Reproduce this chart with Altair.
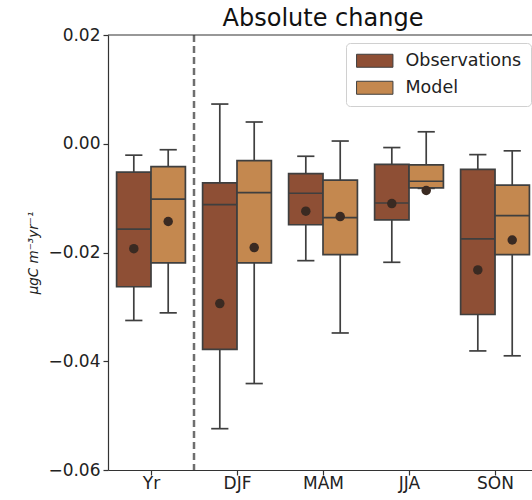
import altair as alt
import pandas as pd

# Box statistics per period (ugC m-3 yr-1)
seasons = ["Yr", "DJF", "MAM", "JJA", "SON"]
series_names = ["Observations", "Model"]

obs_whislo = [-0.0325, -0.0524, -0.0215, -0.0218, -0.0381]
obs_q1 = [-0.0263, -0.0378, -0.0149, -0.0140, -0.0314]
obs_med = [-0.0157, -0.0112, -0.0091, -0.0109, -0.0175]
obs_q3 = [-0.0052, -0.0072, -0.0055, -0.0038, -0.0047]
obs_whishi = [-0.0021, 0.0073, -0.0023, -0.0007, -0.0020]
obs_mean = [-0.0193, -0.0294, -0.0124, -0.0110, -0.0232]

mod_whislo = [-0.0311, -0.0441, -0.0348, -0.0082, -0.0390]
mod_q1 = [-0.0219, -0.0219, -0.0204, -0.0081, -0.0204]
mod_med = [-0.0102, -0.0090, -0.0136, -0.0069, -0.0132]
mod_q3 = [-0.0042, -0.0031, -0.0067, -0.0039, -0.0076]
mod_whishi = [-0.0011, 0.0040, 0.0005, 0.0022, -0.0013]
mod_mean = [-0.0143, -0.0191, -0.0134, -0.0086, -0.0177]

colors = ["#8E4F35", "#C4884F"]
edge = "#3f3f3f"
line_w = 1.7

rows = []
stats = {
    "Observations": (obs_whislo, obs_q1, obs_med, obs_q3, obs_whishi, obs_mean),
    "Model": (mod_whislo, mod_q1, mod_med, mod_q3, mod_whishi, mod_mean),
}
for name in series_names:
    lo, q1, med, q3, hi, mean = stats[name]
    for i, s in enumerate(seasons):
        rows.append(dict(season=s, series=name, idx=i, lo=lo[i], q1=q1[i],
                         med=med[i], q3=q3[i], hi=hi[i], mean=mean[i]))
df = pd.DataFrame(rows)

# Dodge the two series around each period's slot
base = alt.Chart(df).transform_calculate(
    pos="datum.idx + (datum.series === 'Observations' ? -0.2 : 0.2)"
).transform_calculate(
    left="datum.pos - 0.2", right="datum.pos + 0.2",
    capl="datum.pos - 0.1", capr="datum.pos + 0.1",
)

xscale = alt.Scale(domain=[-0.5, 4.43], nice=False, zero=False)
yscale = alt.Scale(domain=[-0.06, 0.02], nice=False, zero=False)
label_expr = "['Yr','DJF','MAM','JJA','SON'][datum.value]"

xaxis = alt.Axis(values=[0, 1, 2, 3, 4], labelExpr=label_expr, title=None,
                 grid=False, labelFontSize=17, labelPadding=0, tickSize=5)
yaxis = alt.Axis(values=[-0.06, -0.04, -0.02, 0.0, 0.02], format=".2f",
                 grid=False, labelFontSize=17, tickSize=5, labelPadding=3,
                 title="μgC m⁻³yr⁻¹", titleFontSize=13.5, titleFontStyle="italic",
                 titleFontWeight="normal", titlePadding=7)

whisker = base.mark_rule(color=edge, strokeWidth=line_w).encode(
    x=alt.X("pos:Q", scale=xscale, axis=xaxis),
    y=alt.Y("lo:Q", scale=yscale, axis=yaxis),
    y2="hi:Q",
)
cap_hi = base.mark_rule(color=edge, strokeWidth=line_w).encode(
    x="capl:Q", x2="capr:Q", y="hi:Q")
cap_lo = base.mark_rule(color=edge, strokeWidth=line_w).encode(
    x="capl:Q", x2="capr:Q", y="lo:Q")

box = base.mark_bar(stroke=edge, strokeWidth=line_w).encode(
    x="left:Q", x2="right:Q", y="q1:Q", y2="q3:Q",
    fill=alt.Fill("series:N", scale=alt.Scale(domain=series_names, range=colors),
                  legend=alt.Legend(
                      title=None, orient="none", legendX=238, legendY=8,
                      symbolType="M-2.8,-1L2.8,-1L2.8,1L-2.8,1Z",
                      symbolSize=169, symbolStrokeColor=edge, symbolStrokeWidth=1,
                      symbolOffset=11, labelOffset=22, labelFontSize=17.5,
                      labelColor="#222", rowPadding=8,
                      fillColor="white", strokeColor="#d0d0d0", cornerRadius=4,
                      padding=9)),
)
median = base.mark_rule(color=edge, strokeWidth=line_w).encode(
    x="left:Q", x2="right:Q", y="med:Q")
means = base.mark_circle(size=90, color="#3a2a22", opacity=1).encode(
    x="pos:Q", y="mean:Q")

divider = alt.Chart(pd.DataFrame({"split": [0.5]})).mark_rule(
    color="#6e6e6e", strokeWidth=2.5, strokeDash=[7, 4]
).encode(x="split:Q")

top_spine = alt.Chart(pd.DataFrame({"v": [0.02]})).mark_rule(
    color="#333", strokeWidth=1.2
).encode(y="v:Q", x=alt.value(0), x2=alt.value(424))

chart = alt.layer(
    divider, whisker, cap_hi, cap_lo, box, median, means, top_spine
).properties(
    width=424, height=435,
    title=alt.TitleParams("Absolute change", fontSize=24, fontWeight="normal",
                          anchor="middle", frame="group", dx=3, offset=-5,
                          color="#111"),
    autosize=alt.AutoSizeParams(type="none"),
    padding={"left": 108, "top": 35, "right": 0, "bottom": 30},
).configure_view(stroke=None).configure_axis(
    domainColor="#333", domainWidth=1.2, tickColor="#333", tickWidth=1.2,
    labelColor="#222", titleColor="#222", labelFont="DejaVu Sans",
    titleFont="DejaVu Sans",
).configure_legend(labelFont="DejaVu Sans").configure_title(font="DejaVu Sans")

chart.save("out.html", embed_options={"renderer": "svg", "actions": False})
